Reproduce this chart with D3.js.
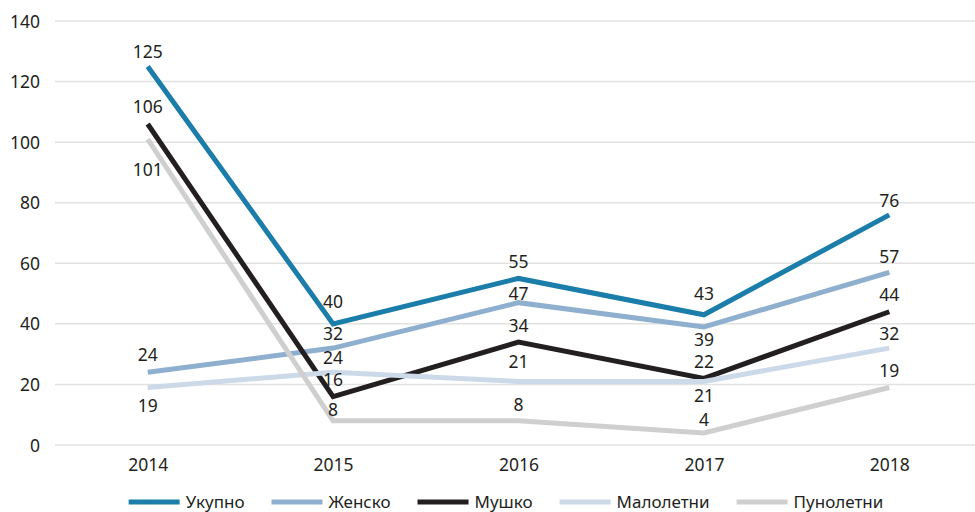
<!DOCTYPE html>
<html>
<head>
<meta charset="utf-8">
<script src="https://cdn.jsdelivr.net/npm/d3@7"></script>
<style>
  html, body { margin: 0; padding: 0; background: #fff; }
  svg text { font-family: "Noto Sans", "Open Sans", sans-serif; fill: #231f20; }
</style>
</head>
<body>
<svg id="chart" width="975" height="512"></svg>
<script>
// Years on the horizontal axis
const years = ["2014", "2015", "2016", "2017", "2018"];

// Series values per year
const ukupno    = [125, 40, 55, 43, 76];
const zensko    = [24, 32, 47, 39, 57];
const musko     = [106, 16, 34, 22, 44];
const maloletni = [19, 24, 21, 21, 32];
const punoletni = [101, 8, 8, 4, 19];

const seriesNames = ["Укупно", "Женско", "Мушко", "Малолетни", "Пунолетни"];
const yTicks = [0, 20, 40, 60, 80, 100, 120, 140];

// Styling and label placement (vertical shift of each value label from its point)
const colors = ["#1b7daa", "#8fafcf", "#231f20", "#ccd9e8", "#cfcfcf"];
const labelShift = [
  [-15, -22, -17, -21, -14],
  [-17, -14, -9, 13, -15],
  [-17, -17, -16, -16, -17],
  [18, -14, -20, 14, -14],
  [31, -11, -16, -13, -17]
];

const values = [ukupno, zensko, musko, maloletni, punoletni];
const series = seriesNames.map((name, i) => ({
  name,
  color: colors[i],
  points: years.map((yr, j) => ({ year: yr, value: values[i][j], shift: labelShift[i][j] }))
}));

const svg = d3.select("#chart");
const plotLeft = 55, plotRight = 982, plotTop = 21, plotBottom = 445;

const x = d3.scalePoint().domain(years).range([plotLeft, plotRight]).padding(0.5);
const y = d3.scaleLinear().domain([0, 140]).range([plotBottom, plotTop]);

// Horizontal gridlines
svg.append("g").selectAll("line").data(yTicks).join("line")
  .attr("x1", plotLeft).attr("x2", plotRight)
  .attr("y1", d => y(d)).attr("y2", d => y(d))
  .attr("stroke", "#e2e2e2").attr("stroke-width", 1.5);

// Y axis labels
const yAxis = d3.axisLeft(y).tickValues(yTicks).tickSize(0).tickPadding(0);
const gy = svg.append("g").attr("transform", "translate(40,0)").call(yAxis);
gy.select(".domain").remove();
gy.selectAll("text").attr("font-size", 17.5).attr("font-family", null).attr("dy", "0.35em");

// X axis labels
const xAxis = d3.axisBottom(x).tickSize(0).tickPadding(0);
const gx = svg.append("g").attr("transform", "translate(0,465)").call(xAxis);
gx.select(".domain").remove();
gx.selectAll("text").attr("font-size", 17.5).attr("font-family", null).attr("dy", "0.35em");

// Lines
const line = d3.line().x(d => x(d.year)).y(d => y(d.value));
svg.append("g").selectAll("path").data(series).join("path")
  .attr("d", d => line(d.points))
  .attr("fill", "none")
  .attr("stroke", d => d.color)
  .attr("stroke-width", 5)
  .attr("stroke-linejoin", "miter");

// Value labels
svg.append("g").selectAll("g").data(series).join("g")
  .selectAll("text").data(d => d.points).join("text")
  .attr("x", d => x(d.year))
  .attr("y", d => y(d.value) + d.shift)
  .attr("dy", "0.35em")
  .attr("text-anchor", "middle")
  .attr("font-size", 17.5)
  .text(d => d.value);

// Legend
const legend = svg.append("g");
let cx = 0;
series.forEach(s => {
  const g = legend.append("g").attr("transform", `translate(${cx},0)`);
  g.append("line").attr("x1", 0).attr("x2", 51).attr("y1", 0).attr("y2", 0)
    .attr("stroke", s.color).attr("stroke-width", 5);
  const t = g.append("text").attr("x", 57).attr("dy", "0.35em")
    .attr("font-size", 17).text(s.name);
  cx += 57 + t.node().getComputedTextLength() + 27;
});
const legendWidth = cx - 27;
legend.attr("transform", `translate(${506 - legendWidth / 2},502)`);
</script>
</body>
</html>
